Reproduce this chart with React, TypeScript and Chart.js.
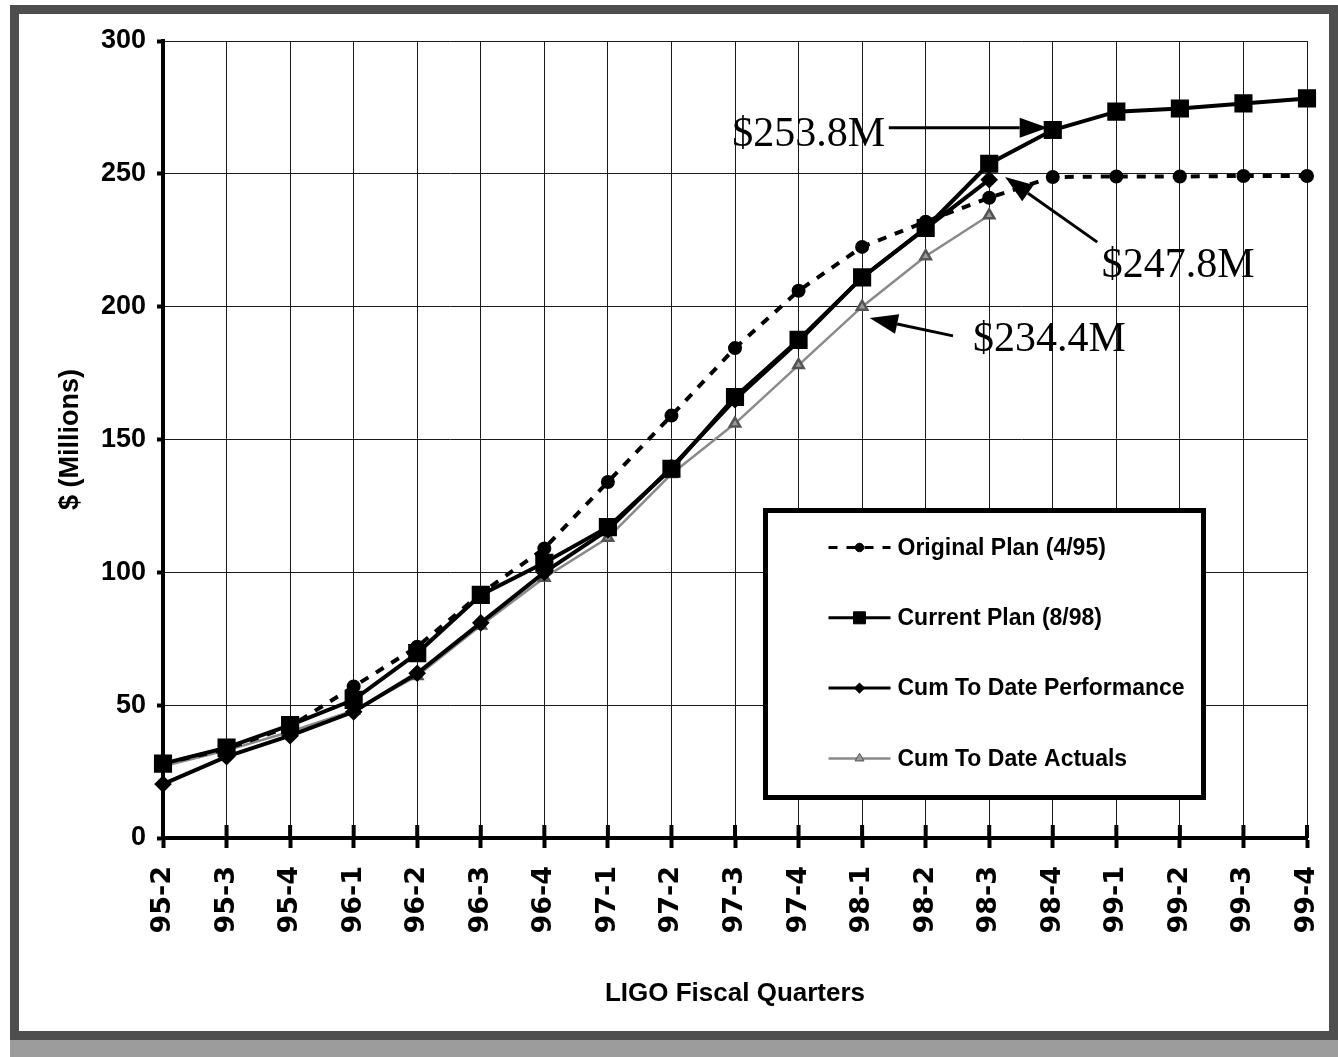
import { useEffect, useRef } from "react";
import { Chart, registerables } from "chart.js";

Chart.register(...registerables);

// LIGO fiscal quarters and cumulative cost curves ($ millions)
const quarters = [
  "95-2", "95-3", "95-4", "96-1", "96-2", "96-3", "96-4", "97-1", "97-2", "97-3",
  "97-4", "98-1", "98-2", "98-3", "98-4", "99-1", "99-2", "99-3", "99-4",
];
const originalPlan = [28, 33.5, 42, 57, 72, 92, 109, 134, 159, 184.4, 206, 222.5, 232, 241, 248.8, 249, 249, 249.2, 249.2];
const currentPlan = [28, 34, 42.5, 52, 69.6, 91.5, 103.6, 117, 139, 166, 187.5, 211, 229.6, 253.8, 266.5, 273.4, 274.6, 276.5, 278.4];
const cumPerformance = [20.3, 30.6, 38.5, 47.5, 62, 81, 100, 116, 139.5, 165, 187, 211, 229.5, 247.8, null, null, null, null, null];
const cumActuals = [27, 33, 40, 48, 61, 80, 98, 113, 137, 156, 178, 200, 219, 234.4, null, null, null, null, null];
const seriesNames = ["Original Plan (4/95)", "Current Plan (8/98)", "Cum To Date Performance", "Cum To Date Actuals"];

const Y_MIN = 0;
const Y_MAX = 300;
const Y_STEP = 50;

const SANS = '"Liberation Sans", Arial, Helvetica, sans-serif';
const WIDE_SANS = '"DejaVu Sans", Verdana, sans-serif';
const SERIF = '"Liberation Serif", "Times New Roman", serif';

// Callouts at the latest reported quarter (98-3), placed in (category index, $M) units
const LAST = 13;
const callouts = [
  { value: currentPlan[LAST], text: [11.36, 260.5], align: "right", tail: [11.42, 267.3], tip: [13.92, 267.3] },
  { value: cumPerformance[LAST] as number, text: [14.77, 211.2], align: "left", tail: [14.70, 224.3], tip: [13.25, 248.8] },
  { value: cumActuals[LAST] as number, text: [12.745, 183.3], align: "left", tail: [12.43, 189], tip: [11.12, 195.7] },
];

function drawMarker(ctx: CanvasRenderingContext2D, style: string, x: number, y: number, r: number, fill: string, stroke: string) {
  ctx.save();
  ctx.setLineDash([]);
  ctx.fillStyle = fill;
  ctx.strokeStyle = stroke;
  ctx.lineWidth = 1;
  ctx.beginPath();
  if (style === "circle") {
    ctx.arc(x, y, r, 0, Math.PI * 2);
  } else if (style === "rect") {
    const s = r * Math.SQRT1_2;
    ctx.rect(x - s, y - s, 2 * s, 2 * s);
  } else if (style === "rectRot") {
    ctx.moveTo(x, y - r);
    ctx.lineTo(x + r, y);
    ctx.lineTo(x, y + r);
    ctx.lineTo(x - r, y);
    ctx.closePath();
  } else {
    ctx.moveTo(x, y - r);
    ctx.lineTo(x + r * 0.87, y + r * 0.5);
    ctx.lineTo(x - r * 0.87, y + r * 0.5);
    ctx.closePath();
  }
  ctx.fill();
  ctx.stroke();
  ctx.restore();
}

// Tick marks that cross the category axis
const crossTicks = {
  id: "crossTicks",
  beforeDatasetsDraw(chart: any) {
    const xs = chart.scales.x;
    const { ctx, chartArea } = chart;
    ctx.save();
    ctx.strokeStyle = "#000";
    ctx.lineWidth = 4;
    xs.ticks.forEach((_: any, i: number) => {
      const x = xs.getPixelForTick(i);
      ctx.beginPath();
      ctx.moveTo(x, chartArea.bottom - 13);
      ctx.lineTo(x, chartArea.bottom);
      ctx.stroke();
    });
    ctx.restore();
  },
};

// Value callouts with arrows
const calloutPlugin = {
  id: "callouts",
  afterDatasetsDraw(chart: any) {
    const { ctx } = chart;
    const xs = chart.scales.x;
    const ys = chart.scales.y;
    const px = (p: number[]) => [xs.getPixelForValue(p[0]), ys.getPixelForValue(p[1])];
    ctx.save();
    callouts.forEach((c) => {
      const [tx, ty] = px(c.tail);
      const [hx, hy] = px(c.tip);
      const ang = Math.atan2(hy - ty, hx - tx);
      const len = 28;
      const half = 10;
      const bx = hx - len * Math.cos(ang);
      const by = hy - len * Math.sin(ang);
      ctx.strokeStyle = "#000";
      ctx.lineWidth = 3;
      ctx.beginPath();
      ctx.moveTo(tx, ty);
      ctx.lineTo(bx, by);
      ctx.stroke();
      ctx.fillStyle = "#000";
      ctx.beginPath();
      ctx.moveTo(hx, hy);
      ctx.lineTo(bx + half * Math.sin(ang), by - half * Math.cos(ang));
      ctx.lineTo(bx - half * Math.sin(ang), by + half * Math.cos(ang));
      ctx.closePath();
      ctx.fill();
      const [lx, ly] = px(c.text);
      ctx.font = `42px ${SERIF}`;
      ctx.textAlign = c.align;
      ctx.textBaseline = "alphabetic";
      ctx.fillText(`$${c.value.toFixed(1)}M`, lx, ly);
    });
    ctx.restore();
  },
};

// Boxed legend inside the plot area
const boxLegend = {
  id: "boxLegend",
  afterDatasetsDraw(chart: any) {
    const { ctx, chartArea } = chart;
    const x0 = chartArea.left + 602.5;
    const y0 = chartArea.top + 469.5;
    const w = 438;
    const h = 287;
    ctx.save();
    ctx.fillStyle = "#fff";
    ctx.fillRect(x0, y0, w, h);
    ctx.lineWidth = 5;
    ctx.strokeStyle = "#000";
    ctx.setLineDash([]);
    ctx.strokeRect(x0, y0, w, h);
    chart.data.datasets.forEach((ds: any, i: number) => {
      const cy = y0 + 37 + i * 70.3;
      const l1 = x0 + 63;
      const l2 = x0 + 125;
      const mx = (l1 + l2) / 2;
      ctx.setLineDash(ds.borderDash || []);
      ctx.strokeStyle = ds.borderColor;
      ctx.lineWidth = Math.min(ds.borderWidth, 3);
      ctx.beginPath();
      ctx.moveTo(l1, cy);
      ctx.lineTo(l2, cy);
      ctx.stroke();
      drawMarker(ctx, ds.pointStyle, mx, cy, ds.pointRadius * 0.85, ds.pointBackgroundColor, ds.pointBorderColor);
      ctx.setLineDash([]);
      ctx.fillStyle = "#000";
      ctx.font = `bold 23px ${SANS}`;
      ctx.textAlign = "left";
      ctx.textBaseline = "middle";
      ctx.fillText(ds.label, x0 + 132, cy + 1);
    });
    ctx.restore();
  },
};

export default function App() {
  const canvasRef = useRef<HTMLCanvasElement | null>(null);

  useEffect(() => {
    const canvas = canvasRef.current;
    if (!canvas) return;
    const chart = new Chart(canvas, {
      type: "line",
      data: {
        labels: quarters,
        datasets: [
          {
            label: seriesNames[0],
            data: originalPlan,
            borderColor: "#000",
            borderWidth: 4,
            borderDash: [9, 9],
            pointStyle: "circle",
            pointRadius: 5,
            pointBackgroundColor: "#000",
            pointBorderColor: "#000",
            tension: 0,
          },
          {
            label: seriesNames[1],
            data: currentPlan,
            borderColor: "#000",
            borderWidth: 4,
            pointStyle: "rect",
            pointRadius: 10,
            pointBackgroundColor: "#000",
            pointBorderColor: "#000",
            tension: 0,
          },
          {
            label: seriesNames[2],
            data: cumPerformance,
            borderColor: "#000",
            borderWidth: 4,
            pointStyle: "rectRot",
            pointRadius: 6,
            pointBackgroundColor: "#000",
            pointBorderColor: "#000",
            tension: 0,
            spanGaps: false,
          },
          {
            label: seriesNames[3],
            data: cumActuals,
            borderColor: "#8a8a8a",
            borderWidth: 2.5,
            pointStyle: "triangle",
            pointRadius: 6,
            pointBackgroundColor: "#9a9a9a",
            pointBorderColor: "#555",
            tension: 0,
            spanGaps: false,
          },
        ],
      },
      options: {
        animation: false,
        responsive: false,
        devicePixelRatio: 1,
        layout: { padding: { top: 41, right: 31, left: 0, bottom: 0 } },
        plugins: { legend: { display: false }, tooltip: { enabled: false } },
        scales: {
          x: {
            type: "category",
            offset: false,
            grid: { color: "#1a1a1a", lineWidth: 1, tickLength: 10, tickWidth: 4, tickColor: "#000" },
            border: { display: true, color: "#000", width: 4 },
            ticks: {
              autoSkip: false,
              minRotation: 90,
              maxRotation: 90,
              padding: 18,
              color: "#000",
              font: { family: WIDE_SANS, size: 27, weight: "bold" },
            },
            title: {
              display: true,
              text: "LIGO Fiscal Quarters",
              color: "#000",
              font: { family: SANS, size: 26, weight: "bold" },
              padding: { top: 0, bottom: 48 },
            },
            afterFit(scale: any) {
              scale.height = 219;
              scale.paddingLeft = 0;
              scale.paddingRight = 0;
            },
          },
          y: {
            min: Y_MIN,
            max: Y_MAX,
            grid: { color: "#1a1a1a", lineWidth: 1, tickLength: 6, tickWidth: 4, tickColor: "#000" },
            border: { display: true, color: "#000", width: 4 },
            ticks: { stepSize: Y_STEP, padding: 11, color: "#000", font: { family: SANS, size: 27, weight: "bold" } },
            title: {
              display: true,
              text: "$ (Millions)",
              color: "#000",
              font: { family: SANS, size: 27, weight: "bold" },
              padding: { top: 54, bottom: 0 },
            },
            afterFit(scale: any) {
              scale.width = 163;
              scale.paddingTop = 0;
              scale.paddingBottom = 0;
            },
          },
        },
      },
      plugins: [crossTicks, calloutPlugin, boxLegend],
    } as any);
    return () => chart.destroy();
  }, []);

  return (
    <div style={{ position: "absolute", left: 0, top: 0, width: 1338, height: 1057, background: "#fff", overflow: "hidden" }}>
      <div
        style={{
          position: "absolute",
          left: 10,
          top: 5,
          width: 1328,
          height: 1035,
          boxSizing: "border-box",
          border: "9px solid #4e4e4e",
          background: "#fff",
        }}
      />
      <div style={{ position: "absolute", left: 10, top: 1040, width: 1328, height: 17, background: "#9c9c9c" }} />
      <canvas ref={canvasRef} width={1338} height={1057} style={{ position: "absolute", left: 0, top: 0 }} />
    </div>
  );
}
